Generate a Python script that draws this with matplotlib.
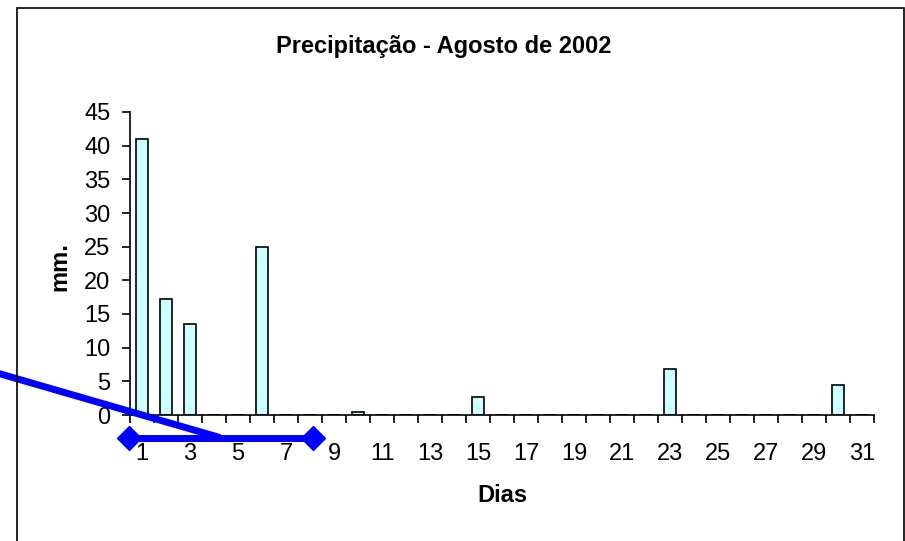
import matplotlib
matplotlib.use("Agg")
import matplotlib.pyplot as plt
from matplotlib.patches import Rectangle

plt.rcParams["font.family"] = ["Liberation Sans", "DejaVu Sans"]

# dados de precipitação (mm) por dia de agosto de 2002
dias = list(range(1, 32))
chuva = [41.0, 17.3, 13.5, 0, 0, 25.0, 0, 0, 0, 0.4,
         0, 0, 0, 0, 2.6, 0, 0, 0, 0, 0,
         0, 0, 6.9, 0, 0, 0, 0, 0, 0, 4.5, 0]
xlabels_dias = list(range(1, 32, 2))
yticks_mm = list(range(0, 50, 5))

# linha azul desenhada por cima do gráfico (objeto de desenho)
linha_diag_x = [-5.0, 4.25]
linha_diag_y = [6.2, -3.35]
linha_horiz_x = [0.46, 8.13]
linha_horiz_y = [-3.35, -3.35]

W, H = 905, 541
FS = 17
fig = plt.figure(figsize=(W / 100, H / 100), dpi=100)
ax = fig.add_axes([130 / W, 1 - 415 / H, 744 / W, 303 / H])

ax.bar(dias, chuva, width=0.5, color="#CCFFFF", edgecolor="black", linewidth=1.2, zorder=2)

ax.set_xlim(0.5, 31.5)
ax.set_ylim(0, 45)
ax.set_yticks(yticks_mm)
ax.set_xticks([d - 0.5 for d in dias] + [31.5])
ax.set_xticklabels([])
ax.set_xticks(xlabels_dias, minor=True)
ax.set_xticklabels([str(d) for d in xlabels_dias], minor=True)

for s in ["top", "right"]:
    ax.spines[s].set_visible(False)
for s in ["left", "bottom"]:
    ax.spines[s].set_linewidth(1.2)

ax.tick_params(axis="y", direction="out", length=6, width=1.2, pad=8, labelsize=FS)
ax.tick_params(axis="x", which="major", direction="out", length=6, width=1.2)
ax.tick_params(axis="x", which="minor", length=0, pad=20, labelsize=FS)

fig.text(444 / W, 1 - 47 / H, "Precipitação - Agosto de 2002", fontsize=FS,
         fontweight="bold", ha="center", va="center")
ax.set_xlabel("Dias", fontsize=FS, fontweight="bold")
ax.set_ylabel("mm.", fontsize=FS, fontweight="bold")
ax.xaxis.set_label_coords(0.5, -0.228)
ax.yaxis.set_label_coords(-0.079, 0.49)

ax.plot(linha_diag_x, linha_diag_y, color="#0000FF", linewidth=5, clip_on=False, zorder=5,
        solid_capstyle="butt")
ax.plot(linha_horiz_x, linha_horiz_y, color="#0000FF", linewidth=5, marker="D",
        markersize=12, clip_on=False, zorder=5)

fig.patches.append(Rectangle((17 / W, -0.01), (904 - 17) / W, 1 - 8 / H + 0.01,
                             transform=fig.transFigure, fill=False,
                             edgecolor="black", linewidth=1.2))

fig.savefig("out.png", dpi=100)
plt.close(fig)
